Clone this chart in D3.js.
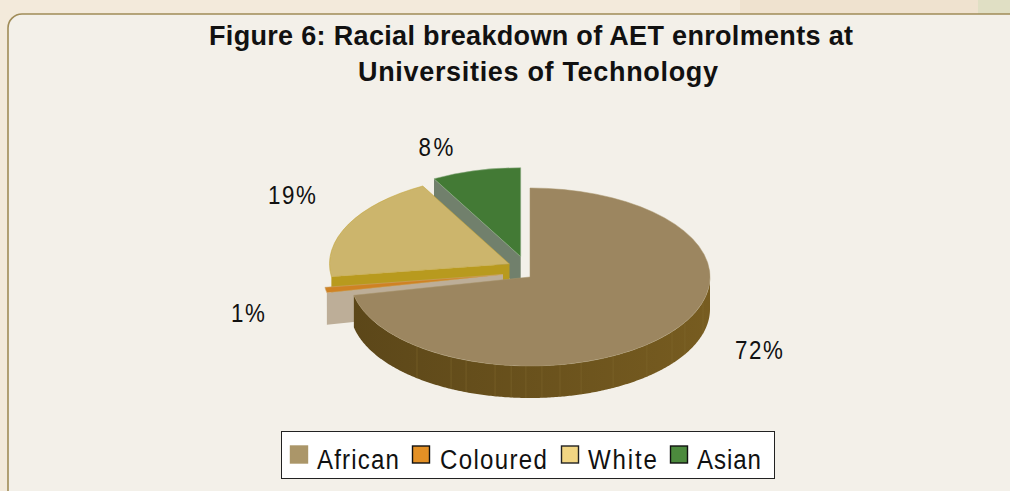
<!DOCTYPE html>
<html>
<head>
<meta charset="utf-8">
<script src="https://cdn.jsdelivr.net/npm/d3@7"></script>
<style>
html, body { margin: 0; padding: 0; background: #f3eadb; overflow: hidden; }
text { font-family: "Liberation Sans", Arial, sans-serif; fill: #111; }
</style>
</head>
<body>
<script>
'use strict'
const titleLines = ["Figure 6: Racial breakdown of AET enrolments at", "Universities of Technology"];
const categories = ["African", "Coloured", "White", "Asian"];
const values = [71.7, 1, 19.3, 8];
const valueLabels = ["72%", "1%", "19%", "8%"];

const w = 1010;
const h = 491;
const rx = 180;
const ry = 89;
const depth = 32;
const rad = Math.PI / 180;
const narrow = 0.86;

// centre of each slice once it is pulled out of the pie
const centres = [[530, 277], [503, 274.5], [509.5, 264], [520.7, 256.7]];
const topColors = ["#9c8660", "#cf8223", "#ccb56c", "#437a35"];
const edgeColors = ["#a8946c", "#c9a878", "#c2a232", "#93b08a"];
const wallColors = ["#6a5320", "#bdae98", "#b89a1e", "#71806c"];
const swatchColors = ["#ab9669", "#e39025", "#f2d683", "#4c8a3d"];
const swatchStroke = ["#ab9669", "#111", "#222", "#111"];
const titleX = [531, 538];
const titleWidths = [644, 360];
const labelPos = [[759, 350], [248, 313], [292, 195], [436, 147]];
const labelWidths = [48, 34, 48, 35];
const legendSwatchX = [290, 412, 561, 670];
const legendTextX = [317, 440, 588, 697];
const legendTextW = [82, 107, 69, 64];
// faint seams on the rim of the big slice, degrees clockwise from the top
const rimSeams = [106, 120.6, 127.9, 139.5, 152.5, 163.5, 170.4, 176.2, 181.3, 186, 191.2, 200.8, 206, 218.9];

const svg = d3.select("body").append("svg")
	.attr("width", w)
	.attr("height", h)
	.style("display", "block");

const defs = svg.append("defs");
const rimGrad = defs.append("linearGradient").attr("id", "rim");
rimGrad.append("stop").attr("offset", "0%").attr("stop-color", "#5c4719");
rimGrad.append("stop").attr("offset", "100%").attr("stop-color", "#775c20");

// page background behind the panel
svg.append("rect").attr("width", w).attr("height", h).attr("fill", "#f3eadb");
svg.append("rect").attr("x", 740).attr("y", 0).attr("width", 238).attr("height", 14).attr("fill", "#efe2cf");
svg.append("rect").attr("x", 978).attr("y", 0).attr("width", 32).attr("height", 14).attr("fill", "#e0dfc4");

svg.append("rect")
	.attr("x", 8)
	.attr("y", 14)
	.attr("width", 1040)
	.attr("height", 520)
	.attr("rx", 14)
	.attr("fill", "#f3f0e9")
	.attr("stroke", "#a08c58")
	.attr("stroke-width", 1.6);

svg.selectAll(".title")
	.data(titleLines)
	.enter()
	.append("text")
	.attr("class", "title")
	.attr("x", (d, i) => titleX[i])
	.attr("y", (d, i) => 45 + i * 36)
	.attr("text-anchor", "middle")
	.attr("font-size", 27)
	.attr("font-weight", "bold")
	.attr("textLength", (d, i) => titleWidths[i])
	.attr("lengthAdjust", "spacing")
	.text((d) => d);

const pie = d3.pie().sort(null).value((d) => d);
const slices = pie(values);
const arc = d3.arc().innerRadius(0).outerRadius(rx);

const px = (i, a) => centres[i][0] + rx * Math.sin(a);
const py = (i, a) => centres[i][1] - ry * Math.cos(a);

const chart = svg.append("g");
const line = d3.line();

// back to front: Asian, White, Coloured, African
[3, 2, 1, 0].forEach((i) => {
	const s = slices[i];
	const c = centres[i];
	const g = chart.append("g").attr("class", "slice");

	if (i === 0) {
		// outer rim, only the part that faces the viewer
		const from = 90 * rad;
		const to = s.endAngle;
		const angles = d3.range(from, to, 0.01).concat([to]);
		const rim = d3.area()
			.x((a) => px(i, a))
			.y0((a) => py(i, a))
			.y1((a) => py(i, a) + depth);
		g.append("path").attr("d", rim(angles)).attr("fill", "url(#rim)");
		g.selectAll(".seam")
			.data(rimSeams)
			.enter()
			.append("line")
			.attr("class", "seam")
			.attr("x1", (d) => px(i, d * rad))
			.attr("x2", (d) => px(i, d * rad))
			.attr("y1", (d) => py(i, d * rad))
			.attr("y2", (d) => py(i, d * rad) + depth)
			.attr("stroke", "#806a30")
			.attr("stroke-width", 0.5);
	} else {
		// cut wall on the slice's leading edge, it faces down towards us
		const a = s.startAngle;
		g.append("path")
			.attr("d", line([
				[c[0], c[1]],
				[px(i, a), py(i, a)],
				[px(i, a), py(i, a) + depth],
				[c[0], c[1] + depth]
			]) + "Z")
			.attr("fill", wallColors[i]);
	}

	g.append("path")
		.attr("d", arc(s))
		.attr("transform", "translate(" + c[0] + "," + c[1] + ") scale(1," + (ry / rx) + ")")
		.attr("fill", topColors[i])
		.attr("stroke", edgeColors[i])
		.attr("stroke-width", 0.7);
});

svg.selectAll(".pct")
	.data(valueLabels)
	.enter()
	.append("text")
	.attr("class", "pct")
	.attr("transform", (d, i) => "translate(" + labelPos[i][0] + "," + (labelPos[i][1] + 9) + ") scale(" + narrow + ",1)")
	.attr("text-anchor", "middle")
	.attr("font-size", 26)
	.attr("textLength", (d, i) => labelWidths[i] / narrow)
	.attr("lengthAdjust", "spacing")
	.text((d) => d);

svg.append("rect")
	.attr("x", 281.5)
	.attr("y", 431.5)
	.attr("width", 493)
	.attr("height", 47)
	.attr("fill", "#fff")
	.attr("stroke", "#222")
	.attr("stroke-width", 1);

const legend = svg.selectAll(".legend")
	.data(categories)
	.enter()
	.append("g")
	.attr("class", "legend");

legend.append("rect")
	.attr("x", (d, i) => legendSwatchX[i] + 0.5)
	.attr("y", 446)
	.attr("width", 17)
	.attr("height", 17)
	.attr("fill", (d, i) => swatchColors[i])
	.attr("stroke", (d, i) => swatchStroke[i])
	.attr("stroke-width", 1.4);

legend.append("text")
	.attr("transform", (d, i) => "translate(" + legendTextX[i] + ",469) scale(" + narrow + ",1)")
	.attr("font-size", 28)
	.attr("textLength", (d, i) => legendTextW[i] / narrow)
	.attr("lengthAdjust", "spacing")
	.text((d) => d);
</script>
</body>
</html>
